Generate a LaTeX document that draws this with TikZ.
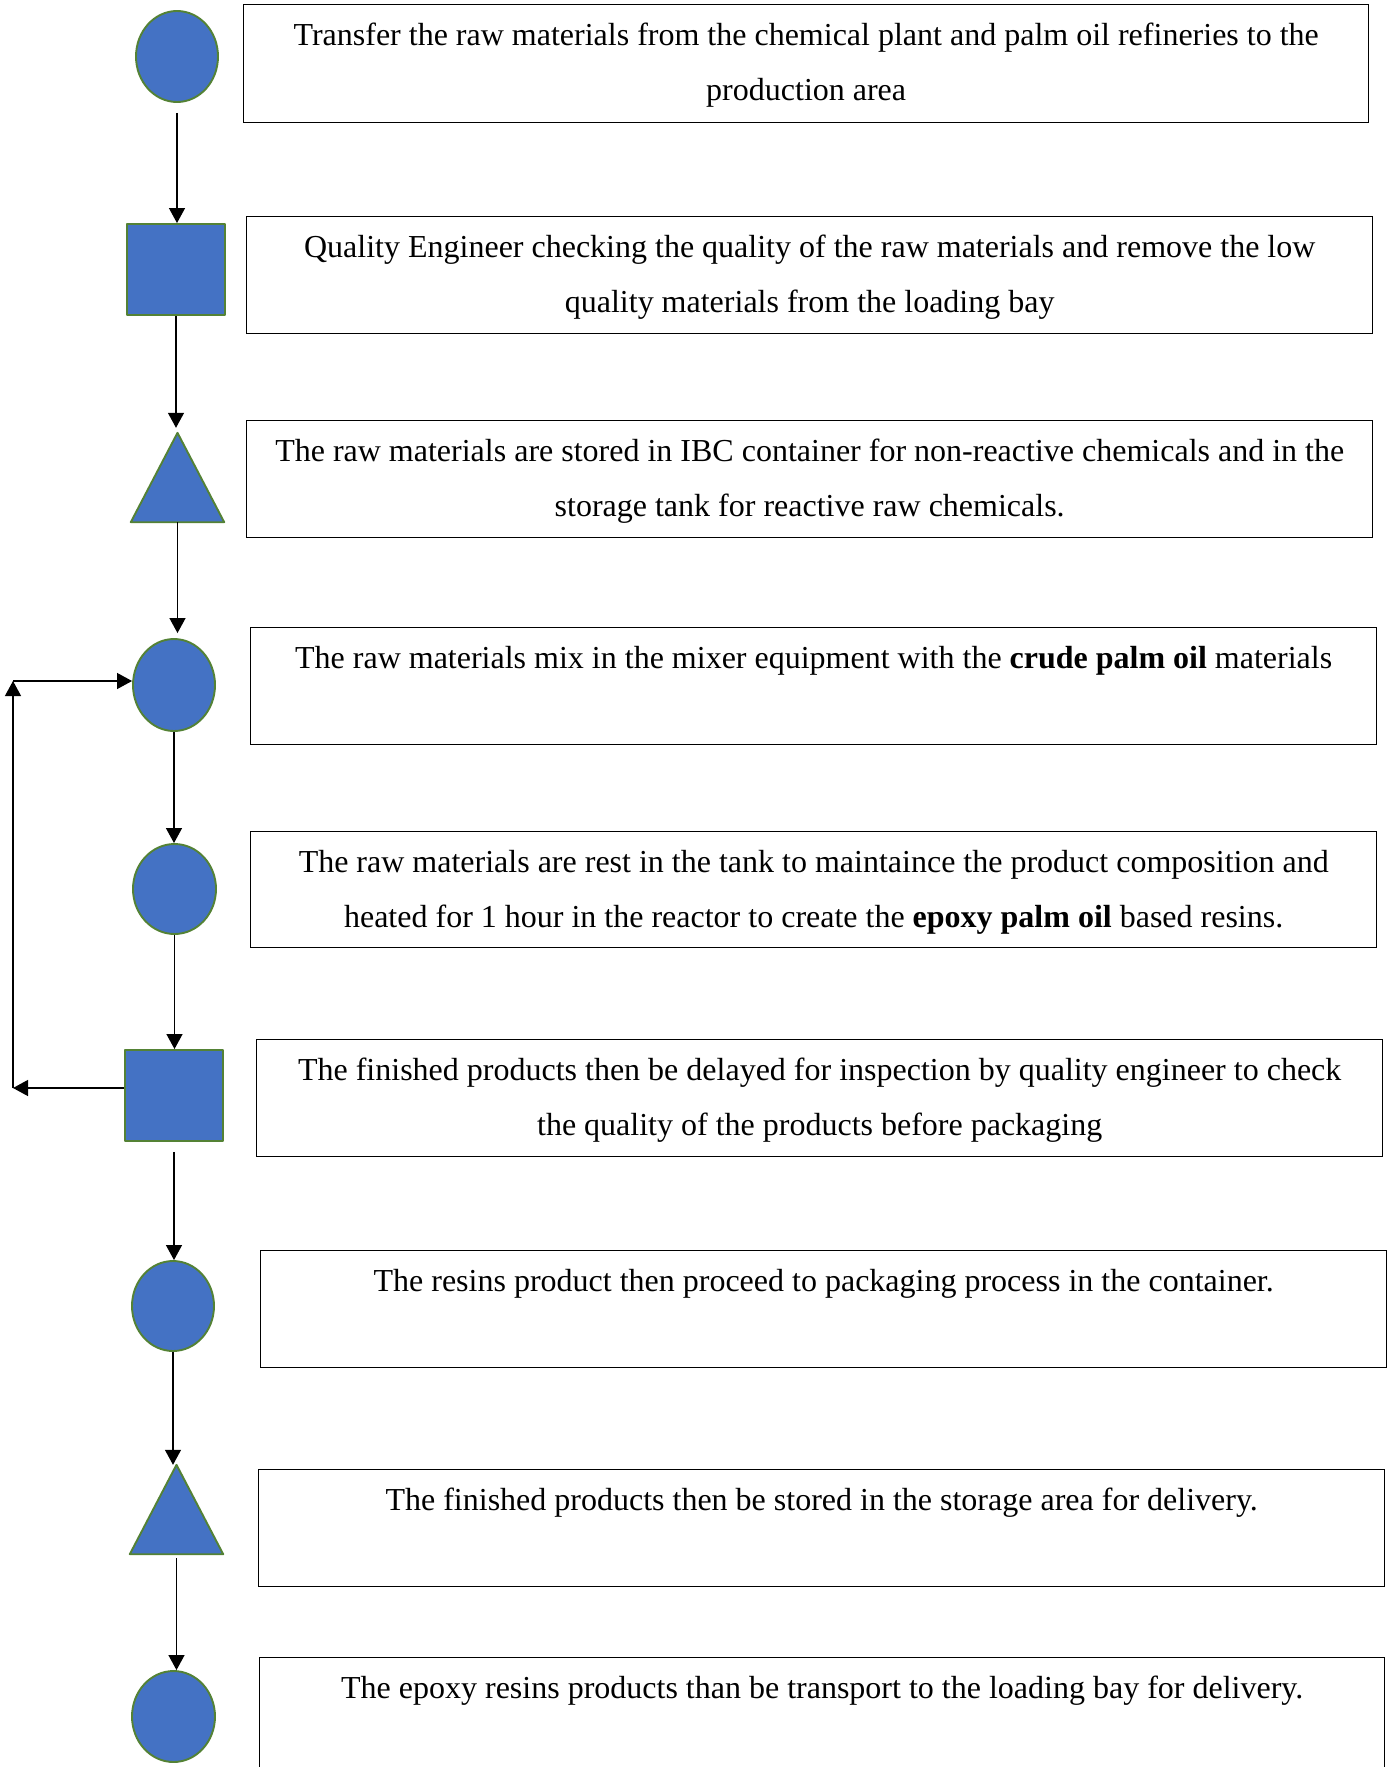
\documentclass[tikz,border=0pt]{standalone}
\usepackage{fontspec}
\setmainfont{Liberation Serif}
\usetikzlibrary{shapes.geometric,arrows.meta}
\definecolor{shapeblue}{HTML}{4472C4}
\definecolor{shapegreen}{HTML}{548235}
\newcommand\steptext[3]{\parbox[t][#2][t]{#1}{\centering\rule{0pt}{41pt}#3}}
\begin{document}
\begin{tikzpicture}[x=1pt,y=-1pt,
  font=\fontsize{32}{55}\selectfont,
  sym/.style={fill=shapeblue, draw=shapegreen, line width=1.9pt, line join=round},
  circ/.style={sym, ellipse, inner sep=0, minimum width=82pt, minimum height=91pt},
  sq/.style={sym, rectangle, inner sep=0, minimum width=98pt, minimum height=91pt},
  tri/.style={inner sep=0, minimum width=93pt, minimum height=89pt},
  stepbox/.style={draw, line width=1.4pt, inner sep=0, anchor=north west},
  arr/.style={line width=1.2pt, -{Triangle[length=15pt,width=16pt]}}]
\clip (0,0) rectangle (1393,1767);
\fill[white] (0,0) rectangle (1393,1767);

% symbols
\node[circ] (S1) at (177,56.5) {};
\node[sq]   (S2) at (176,269.5) {};
\node[tri]  (S3) at (177.5,477.5) {};
\filldraw[sym] (S3.north) -- (S3.south east) -- (S3.south west) -- cycle;
\node[circ, minimum height=92pt] (S4) at (174,685) {};
\node[circ, minimum width=83pt, minimum height=90pt] (S5) at (174.5,889) {};
\node[sq]   (S6) at (174,1095.5) {};
\node[circ, minimum height=90pt] (S7) at (173,1306) {};
\node[tri]  (S8) at (176.5,1509.5) {};
\filldraw[sym] (S8.north) -- (S8.south east) -- (S8.south west) -- cycle;
\node[circ, minimum width=83pt] (S9) at (173.5,1716.5) {};

% boxes
\node[stepbox] (B1) at (243,4) {\steptext{1125pt}{118pt}{Transfer the raw materials from the chemical plant and palm oil refineries to the\\production area}};
\node[stepbox] (B2) at (246,216) {\steptext{1126pt}{117pt}{Quality Engineer checking the quality of the raw materials and remove the low\\quality materials from the loading bay}};
\node[stepbox] (B3) at (246,420) {\steptext{1126pt}{117pt}{The raw materials are stored in IBC container for non-reactive chemicals and in the\\storage tank for reactive raw chemicals.}};
\node[stepbox] (B4) at (250,627) {\steptext{1126pt}{117pt}{The raw materials mix in the mixer equipment with the \textbf{crude palm oil} materials}};
\node[stepbox] (B5) at (250,831) {\steptext{1126pt}{116pt}{The raw materials are rest in the tank to maintaince the product composition and\\heated for 1 hour in the reactor to create the \textbf{epoxy palm oil} based resins.}};
\node[stepbox] (B6) at (256,1039) {\steptext{1126pt}{117pt}{The finished products then be delayed for inspection by quality engineer to check\\the quality of the products before packaging}};
\node[stepbox] (B7) at (260,1250) {\steptext{1126pt}{117pt}{The resins product then proceed to packaging process in the container.}};
\node[stepbox] (B8) at (258,1469) {\steptext{1126pt}{117pt}{The finished products then be stored in the storage area for delivery.}};
\node[stepbox] (B9) at (259,1657) {\steptext{1125pt}{130pt}{The epoxy resins products than be transport to the loading bay for delivery.}};

% connectors
\draw[arr, shorten <=10pt] (S1.south) -- (S1.south |- S2.north);
\draw[arr, shorten >=5pt] (S2.south) -- (S2.south |- S3.north);
\draw[arr, shorten >=5pt] (S3.south) -- (S3.south |- S4.north);
\draw[arr] (S4.south) -- (S4.south |- S5.north);
\draw[arr] (S5.south) -- (S5.south |- S6.north);
\draw[arr, shorten <=10pt] (S6.south) -- (S6.south |- S7.north);
\draw[arr] (S7.south) -- (S7.south |- S8.north);
\draw[arr, shorten <=4pt] (S8.south) -- (S8.south |- S9.north);

% feedback loop
\coordinate (cb) at (13,1088);
\coordinate (ct) at (13,681);
\draw[arr] (cb -| S6.west) -- (cb);
\draw[arr] (cb) -- (ct);
\draw[arr] (ct) -- (ct -| S4.west);
\end{tikzpicture}
\end{document}
